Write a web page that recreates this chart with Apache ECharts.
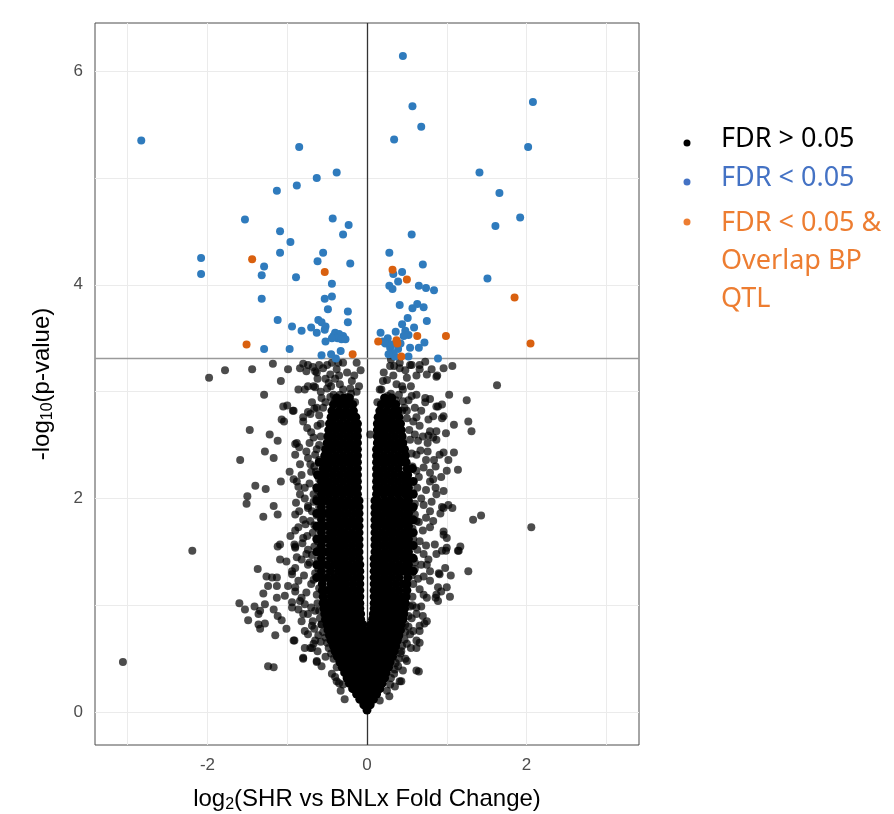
<!DOCTYPE html>
<html>
<head>
<meta charset="utf-8">
<title>Volcano plot</title>
<script src="https://cdn.jsdelivr.net/npm/echarts@6.0.0/dist/echarts.min.js"></script>
<style>
  html, body { margin: 0; padding: 0; background: #fff; }
  #volcano { width: 894px; height: 814px; }
</style>
</head>
<body>
<div id="volcano"></div>
<script>
// axis breaks and reference lines
var xTicks = [-2, 0, 2];
var yTicks = [0, 2, 4, 6];
var xGrid = [-3, -2, -1, 0, 1, 2, 3];
var yGrid = [0, 1, 2, 3, 4, 5, 6];
var fdrCut = 3.31;

// FDR < 0.05 and overlapping a BP QTL  [log2FC, -log10 p]
var qtlPoints = [
    [-1.44, 4.24], [-0.53, 4.12], [-1.51, 3.44], [-0.18, 3.35], [0.32, 4.14], [0.50, 4.05],
    [1.85, 3.88], [0.63, 3.52], [0.99, 3.52], [0.14, 3.47], [0.37, 3.48], [0.38, 3.45],
    [0.43, 3.33], [2.05, 3.45]
];

// FDR < 0.05
var sigPoints = [
    [-2.83, 5.35], [-0.85, 5.29], [-0.38, 5.05], [-0.63, 5.00], [-0.88, 4.93], [-1.13, 4.88],
    [0.45, 6.14], [0.57, 5.67], [0.68, 5.48], [0.34, 5.36], [2.08, 5.71], [2.02, 5.29],
    [1.41, 5.05], [1.66, 4.86],
    [-1.53, 4.61], [-0.43, 4.62], [-0.23, 4.56], [-1.09, 4.50], [-0.30, 4.47], [-0.96, 4.40],
    [-1.09, 4.30], [-0.55, 4.30], [-2.08, 4.25], [-0.62, 4.22], [-0.21, 4.20], [-1.29, 4.17],
    [-2.08, 4.10], [-1.32, 4.09], [-0.89, 4.07], [-0.44, 4.01], [-1.32, 3.87], [-0.53, 3.87],
    [-0.44, 3.89], [-0.49, 3.77], [-0.24, 3.75], [-1.12, 3.67], [-0.61, 3.67], [-0.57, 3.65],
    [-0.24, 3.65], [-0.94, 3.61], [-0.70, 3.60], [-0.52, 3.61], [-0.53, 3.58], [-0.82, 3.57],
    [-0.63, 3.55], [-0.40, 3.55], [-0.35, 3.54], [-0.30, 3.52], [-0.42, 3.52], [-0.37, 3.50],
    [-0.32, 3.49], [-0.27, 3.49], [-0.44, 3.50], [-0.52, 3.47], [-1.29, 3.40], [-0.97, 3.40],
    [-0.33, 3.38], [-0.57, 3.34], [-0.45, 3.35], [-0.39, 3.31],
    [1.92, 4.63], [1.61, 4.55], [0.56, 4.47], [0.28, 4.30], [0.70, 4.19], [0.33, 4.10],
    [0.44, 4.12], [0.39, 4.03], [1.51, 4.06], [0.28, 3.99], [0.32, 3.96], [0.65, 3.99],
    [0.74, 3.97], [0.84, 3.95], [0.41, 3.81], [0.57, 3.78], [0.63, 3.82], [0.71, 3.79],
    [0.51, 3.69], [0.75, 3.66], [0.44, 3.63], [0.59, 3.60], [0.17, 3.55], [0.36, 3.56],
    [0.48, 3.57], [0.52, 3.53], [0.26, 3.50], [0.46, 3.52], [0.23, 3.45], [0.72, 3.46],
    [0.29, 3.41], [0.39, 3.40], [0.54, 3.41], [0.65, 3.41], [0.33, 3.36], [0.89, 3.31],
    [0.52, 3.33], [0.20, 3.47], [0.31, 3.44], [0.42, 3.45], [0.35, 3.33], [0.27, 3.35]
];

// FDR > 0.05, scattered points outside the dense core
var nsScatter = [
    [-1.98, 3.13], [-1.78, 3.20], [-1.44, 3.21], [-1.18, 3.26], [-0.99, 3.21], [-1.08, 3.10],
    [-1.29, 2.97], [-0.80, 3.26], [-0.68, 3.23], [-0.63, 3.18], [-0.76, 3.19], [-0.86, 3.02],
    [-0.74, 3.05], [-0.65, 3.04], [-1.05, 2.86], [-1.00, 2.87], [-0.93, 2.82], [-1.07, 2.74],
    [-1.04, 2.72], [-0.80, 2.76], [-0.74, 2.81], [-1.47, 2.64], [-1.22, 2.60], [-1.12, 2.54],
    [-0.90, 2.51], [-0.85, 2.48], [-1.28, 2.44], [-1.17, 2.38], [-1.59, 2.36], [-0.97, 2.25],
    [-1.08, 2.16], [-0.88, 2.16], [-0.86, 2.11], [-0.84, 2.04], [-0.89, 1.96], [-1.40, 2.12],
    [-1.27, 2.09], [-1.50, 2.02], [-1.51, 1.95], [-1.17, 1.93], [-1.30, 1.83], [-1.12, 1.85],
    [-2.19, 1.51], [-1.12, 1.55], [-1.09, 1.57], [-0.90, 1.55], [-0.96, 1.65], [-0.90, 1.70],
    [-0.80, 1.80], [-0.85, 1.88], [-0.74, 1.93], [-0.67, 1.97],
    [-3.06, 0.47], [-1.37, 1.34], [-1.26, 1.27], [-1.19, 1.26], [-1.13, 1.26], [-1.24, 1.18],
    [-1.13, 1.18], [-1.30, 1.11], [-1.13, 1.07], [-1.60, 1.02], [-1.53, 0.96], [-1.41, 0.99],
    [-1.34, 0.95], [-1.36, 0.92], [-1.28, 1.01], [-1.49, 0.86], [-1.36, 0.82], [-1.28, 0.83],
    [-1.34, 0.78], [-1.17, 0.96], [-1.12, 0.90], [-1.07, 0.86], [-1.01, 0.78], [-1.15, 0.72],
    [-1.24, 0.43], [-1.17, 0.42], [-0.92, 0.67], [-0.80, 0.50], [-0.78, 0.60], [-0.69, 0.60],
    [-0.63, 0.47], [-0.57, 0.43], [-0.38, 0.29], [-0.30, 0.26],
    [-1.09, 1.43], [-1.01, 1.41], [-0.90, 1.35], [-0.82, 1.43], [-0.74, 1.38], [-0.94, 1.29],
    [-0.86, 1.23], [-0.99, 1.18], [-0.90, 1.13], [-1.03, 1.09], [-0.94, 1.03], [-0.82, 1.07],
    [-0.86, 0.96], [-0.78, 1.01], [-0.74, 0.92], [-0.82, 0.85], [-0.69, 0.81], [-0.74, 0.73],
    [-0.65, 0.67], [-0.65, 0.95], [-0.57, 0.82], [-0.90, 1.54], [-0.74, 1.52],
    [-0.92, 2.82], [-0.88, 2.52], [-0.90, 2.41], [-0.84, 2.32], [-0.92, 2.18], [-0.90, 1.85],
    [-0.86, 1.73], [-0.91, 1.57], [-0.88, 1.45], [-0.94, 1.32], [-0.90, 1.17], [-0.84, 1.04],
    [-0.94, 0.98], [-0.80, 0.92], [-0.91, 0.67], [-0.80, 0.51], [-0.71, 0.60], [-0.63, 0.48],
    [-0.67, 0.64], [-0.78, 0.76], [-0.76, 1.48], [-0.80, 1.63], [-0.71, 1.79], [-0.74, 1.91],
    [-0.67, 2.04], [-0.78, 2.10], [-0.82, 2.22], [-0.71, 2.32], [-0.65, 2.41], [-0.76, 2.44],
    [-0.67, 2.57], [-0.80, 2.72], [-0.71, 2.79], [-0.63, 2.85], [-0.78, 3.02], [-0.67, 3.05],
    [-0.84, 3.22], [-0.74, 3.25], [-0.65, 3.19], [-0.57, 2.94],
    [-0.55, 3.22], [-0.46, 3.16], [-0.38, 3.21], [-0.34, 3.07], [-0.50, 3.03], [-0.42, 2.97],
    [-0.21, 3.03], [-0.13, 3.00], [-0.28, 2.88], [-0.17, 2.79], [-0.50, 3.25], [-0.30, 3.27],
    [-0.13, 3.27], [-0.52, 3.12], [-0.45, 3.05], [-0.40, 2.92], [-0.35, 3.15], [-0.25, 2.95],
    [-0.19, 3.10], [-0.08, 3.20], [-0.10, 3.05],
    [-0.63, 1.10], [-0.65, 1.30], [-0.62, 1.60], [-0.66, 1.75], [-0.63, 2.00], [-0.64, 2.25],
    [-0.60, 2.50], [-0.58, 2.70], [-0.55, 2.85], [-0.60, 0.95], [-0.57, 0.82], [-0.52, 0.70],
    [-0.48, 0.60], [-0.42, 0.50], [-0.38, 0.42], [-0.70, 2.25], [-0.66, 1.55], [-0.70, 1.20],
    [-0.68, 0.85], [-0.72, 1.40], [-0.62, 2.68], [-0.69, 2.90], [-0.75, 1.65], [-0.72, 2.52],
    [-0.33, 0.20], [-0.40, 0.33], [-0.28, 0.12],
    [-0.61, 0.72], [-0.66, 0.78], [-0.59, 0.88], [-0.70, 0.98], [-0.62, 1.02], [-0.76, 1.12],
    [-0.60, 1.16], [-0.67, 1.24], [-0.79, 1.28], [-0.61, 1.34], [-0.69, 1.47], [-0.62, 1.42],
    [-0.81, 1.58], [-0.60, 1.52], [-0.68, 1.68], [-0.61, 1.72], [-0.77, 1.76], [-0.63, 1.84],
    [-0.69, 1.88], [-0.60, 1.92], [-0.78, 2.00], [-0.62, 2.08], [-0.72, 2.14], [-0.60, 2.18],
    [-0.66, 2.30], [-0.60, 2.36], [-0.74, 2.38], [-0.63, 2.46], [-0.70, 2.62], [-0.58, 2.58],
    [-0.75, 2.66], [-0.60, 2.78], [-0.66, 2.84], [-0.52, 2.90], [-0.58, 3.00], [-0.48, 3.08],
    [-0.62, 3.12], [-0.40, 3.12], [-0.30, 3.02], [-0.25, 3.18], [-0.16, 3.15], [-0.34, 2.97],
    [-0.46, 2.95], [-0.60, 3.25], [-0.44, 3.27], [-0.36, 3.27], [-0.20, 2.98], [-0.15, 2.90],
    [-0.45, 0.55], [-0.50, 0.65], [-0.52, 0.52], [-0.44, 0.36], [-0.35, 0.27], [-0.55, 0.75],
    [-0.62, 0.57], [-0.58, 0.66],
    [0.99, 1.51], [1.15, 1.51], [1.17, 1.55], [1.27, 1.32], [0.98, 1.35], [1.05, 1.28],
    [0.90, 1.30], [0.79, 1.23], [0.71, 1.27], [0.60, 1.34], [0.75, 1.38], [0.77, 1.43],
    [0.89, 1.17], [0.93, 1.13], [1.04, 1.08], [0.86, 1.07], [0.89, 1.04], [0.75, 1.07],
    [0.68, 0.99], [0.54, 0.99], [0.70, 0.90], [0.72, 0.83], [0.66, 0.81], [0.62, 0.67],
    [0.66, 0.65], [0.54, 0.73], [0.58, 0.76], [0.65, 0.38], [0.43, 0.29], [0.45, 0.39],
    [0.39, 0.43], [0.29, 0.26], [0.16, 0.11], [0.34, 0.36], [0.48, 0.82], [0.50, 0.64],
    [0.43, 0.57], [0.39, 0.70],
    [1.63, 3.06], [2.06, 1.73], [1.33, 1.80], [1.43, 1.84], [1.25, 2.92], [1.27, 2.72],
    [1.31, 2.63], [1.03, 2.97], [1.07, 3.24], [0.96, 3.22], [0.88, 3.15], [0.81, 3.21],
    [0.73, 3.28], [0.66, 3.25], [0.56, 3.25], [0.41, 3.27], [1.09, 2.69], [0.94, 2.88],
    [0.89, 2.86], [0.79, 2.93], [0.73, 2.94], [0.94, 2.75], [0.83, 2.77], [0.77, 2.74],
    [0.99, 2.61], [0.87, 2.63], [0.87, 2.55], [0.76, 2.52], [0.77, 2.59], [0.96, 2.43],
    [1.09, 2.43], [1.02, 2.36], [1.14, 2.27], [0.84, 2.36], [0.86, 2.30], [0.76, 2.44],
    [0.93, 2.20], [0.96, 2.07], [0.86, 2.10], [0.83, 2.18], [0.79, 2.24], [1.02, 1.94],
    [1.07, 1.91], [0.94, 1.92], [0.92, 1.86], [0.81, 1.97], [0.79, 1.88], [0.83, 1.79],
    [0.96, 1.69], [1.00, 1.63], [0.94, 1.51], [1.14, 1.51], [0.85, 1.57], [0.04, 2.60],
    [0.16, 3.02], [0.18, 2.71],
    [0.29, 3.24], [0.41, 3.22], [0.54, 3.25], [0.66, 3.21], [0.75, 3.16], [0.87, 3.14],
    [0.25, 3.11], [0.37, 3.07], [0.50, 3.13], [0.18, 3.02], [0.29, 2.88], [0.45, 2.91],
    [0.62, 2.97], [0.73, 2.90], [0.87, 2.86], [0.96, 2.77], [0.16, 2.72], [0.29, 2.75],
    [0.79, 2.63], [0.83, 2.57], [0.91, 2.41], [1.00, 2.26], [0.21, 3.18], [0.33, 3.15],
    [0.44, 3.05], [0.55, 3.05], [0.30, 2.98], [0.22, 2.92], [0.40, 2.97], [0.60, 2.85],
    [0.52, 2.92],
    [0.62, 2.41], [0.71, 2.29], [0.79, 2.16], [0.87, 2.04], [0.96, 1.91], [0.71, 1.94],
    [0.62, 1.79], [0.79, 1.73], [0.96, 1.66], [1.00, 1.54], [0.87, 1.48], [0.71, 1.48],
    [0.79, 1.32], [0.91, 1.29], [1.00, 1.17], [0.87, 1.10], [0.71, 1.10], [0.62, 0.98],
    [0.75, 0.85], [0.66, 0.76], [0.62, 0.60], [0.50, 0.48], [0.62, 0.39], [0.41, 0.29],
    [0.57, 1.00], [0.58, 1.20], [0.60, 1.40], [0.58, 1.62], [0.60, 1.85], [0.58, 2.05],
    [0.57, 2.30], [0.54, 2.55], [0.50, 2.75], [0.47, 2.85], [0.52, 0.90], [0.48, 0.75],
    [0.44, 0.62], [0.40, 0.50], [0.35, 0.40], [0.30, 0.32], [0.25, 0.20], [0.60, 2.60],
    [0.65, 2.20], [0.68, 2.00], [0.60, 1.95], [0.66, 1.60], [0.64, 1.25], [0.70, 1.70],
    [0.67, 2.45], [0.58, 2.72], [0.66, 2.68], [0.28, 0.15], [0.35, 0.24],
    [0.56, 0.88], [0.62, 0.92], [0.57, 1.08], [0.66, 1.15], [0.56, 1.28], [0.68, 1.38],
    [0.56, 1.45], [0.63, 1.52], [0.74, 1.56], [0.57, 1.72], [0.65, 1.78], [0.74, 1.82],
    [0.56, 1.90], [0.63, 2.10], [0.74, 2.08], [0.56, 2.16], [0.62, 2.26], [0.74, 2.36],
    [0.56, 2.42], [0.64, 2.54], [0.70, 2.58], [0.53, 2.64], [0.62, 2.76], [0.68, 2.82],
    [0.50, 2.82], [0.56, 2.96], [0.45, 3.02], [0.36, 2.92], [0.26, 2.96], [0.20, 3.10],
    [0.34, 3.24], [0.48, 3.20], [0.62, 3.15], [0.24, 2.84], [0.44, 2.82], [0.30, 3.30],
    [0.13, 2.90], [0.52, 0.80], [0.47, 0.68], [0.42, 0.55], [0.36, 0.46], [0.55, 0.60],
    [0.48, 0.50]
];

// FDR > 0.05, dense core read row by row: [-log10 p, log2FC, log2FC, ...]
var nsCoreRows = [
    [0.02, 0.00],
    [0.07, -0.04, 0.04],
    [0.12, -0.09, -0.01, 0.08],
    [0.17, -0.13, -0.05, 0.04, 0.12],
    [0.22, -0.18, -0.09, 0.00, 0.09, 0.16],
    [0.27, -0.22, -0.13, -0.04, 0.05, 0.13, 0.19],
    [0.32, -0.25, -0.17, -0.08, 0.01, 0.09, 0.17, 0.22],
    [0.37, -0.28, -0.21, -0.12, -0.03, 0.05, 0.14, 0.24],
    [0.42, -0.31, -0.25, -0.16, -0.07, 0.02, 0.10, 0.19, 0.27],
    [0.47, -0.34, -0.28, -0.20, -0.11, -0.02, 0.06, 0.15, 0.23, 0.29],
    [0.52, -0.37, -0.32, -0.24, -0.15, -0.06, 0.03, 0.11, 0.20, 0.28, 0.32],
    [0.57, -0.40, -0.35, -0.27, -0.19, -0.10, -0.01, 0.07, 0.16, 0.25, 0.34],
    [0.62, -0.42, -0.38, -0.30, -0.22, -0.13, -0.04, 0.04, 0.12, 0.21, 0.30, 0.36],
    [0.67, -0.45, -0.41, -0.33, -0.25, -0.16, -0.07, 0.01, 0.09, 0.17, 0.26, 0.35, 0.38],
    [0.72, -0.47, -0.43, -0.35, -0.27, -0.18, -0.09, -0.02, 0.06, 0.14, 0.23, 0.32, 0.40],
    [0.77, -0.49, -0.46, -0.38, -0.29, -0.20, -0.11, -0.04, 0.04, 0.11, 0.20, 0.29, 0.37, 0.42],
    [0.82, -0.50, -0.48, -0.40, -0.31, -0.22, -0.13, -0.05, 0.05, 0.10, 0.17, 0.26, 0.35, 0.43],
    [0.87, -0.52, -0.44, -0.35, -0.26, -0.17, -0.08, 0.07, 0.14, 0.23, 0.32, 0.41, 0.45],
    [0.92, -0.53, -0.48, -0.39, -0.30, -0.21, -0.12, -0.08, 0.08, 0.11, 0.20, 0.29, 0.38, 0.46],
    [0.97, -0.54, -0.45, -0.36, -0.27, -0.18, -0.09, 0.09, 0.16, 0.25, 0.34, 0.43, 0.47],
    [1.02, -0.55, -0.50, -0.41, -0.32, -0.23, -0.14, -0.09, 0.09, 0.13, 0.22, 0.31, 0.40, 0.48],
    [1.08, -0.55, -0.45, -0.36, -0.27, -0.18, -0.09, 0.09, 0.18, 0.27, 0.36, 0.45, 0.49],
    [1.14, -0.56, -0.50, -0.41, -0.32, -0.23, -0.14, -0.09, 0.09, 0.13, 0.22, 0.31, 0.40, 0.50],
    [1.20, -0.56, -0.45, -0.36, -0.27, -0.18, -0.09, 0.09, 0.18, 0.27, 0.36, 0.45, 0.50],
    [1.26, -0.63, -0.57, -0.50, -0.41, -0.32, -0.23, -0.14, -0.09, 0.09, 0.13, 0.22, 0.31, 0.40, 0.51],
    [1.32, -0.57, -0.46, -0.36, -0.27, -0.18, -0.09, 0.09, 0.18, 0.27, 0.36, 0.45, 0.51, 0.58],
    [1.38, -0.63, -0.57, -0.50, -0.41, -0.32, -0.23, -0.14, -0.09, 0.09, 0.13, 0.22, 0.31, 0.40, 0.49, 0.52],
    [1.44, -0.57, -0.46, -0.37, -0.28, -0.19, -0.10, 0.09, 0.18, 0.27, 0.36, 0.45, 0.52, 0.58],
    [1.50, -0.63, -0.57, -0.51, -0.42, -0.33, -0.24, -0.15, -0.10, 0.10, 0.14, 0.23, 0.32, 0.41, 0.50, 0.52],
    [1.56, -0.57, -0.46, -0.37, -0.28, -0.19, -0.10, 0.10, 0.19, 0.28, 0.37, 0.46, 0.52, 0.58],
    [1.62, -0.63, -0.57, -0.51, -0.42, -0.33, -0.24, -0.15, -0.10, 0.10, 0.14, 0.23, 0.32, 0.41, 0.50, 0.52],
    [1.68, -0.57, -0.46, -0.37, -0.28, -0.19, -0.10, 0.10, 0.19, 0.28, 0.37, 0.46, 0.52, 0.58],
    [1.74, -0.63, -0.57, -0.51, -0.42, -0.33, -0.24, -0.15, -0.10, 0.10, 0.14, 0.23, 0.32, 0.41, 0.50, 0.52],
    [1.80, -0.57, -0.46, -0.37, -0.28, -0.19, -0.10, 0.10, 0.19, 0.28, 0.37, 0.46, 0.52, 0.58],
    [1.86, -0.63, -0.57, -0.51, -0.42, -0.33, -0.24, -0.15, -0.10, 0.10, 0.14, 0.23, 0.32, 0.41, 0.50, 0.52],
    [1.92, -0.57, -0.46, -0.37, -0.28, -0.19, -0.10, 0.10, 0.19, 0.28, 0.37, 0.46, 0.52, 0.58],
    [1.98, -0.63, -0.57, -0.51, -0.42, -0.33, -0.24, -0.15, -0.10, 0.10, 0.14, 0.23, 0.32, 0.41, 0.50, 0.52],
    [2.04, -0.57, -0.48, -0.39, -0.30, -0.21, -0.12, 0.12, 0.21, 0.30, 0.39, 0.48, 0.52, 0.58],
    [2.10, -0.63, -0.57, -0.52, -0.43, -0.34, -0.25, -0.16, -0.12, 0.12, 0.16, 0.25, 0.34, 0.43, 0.52],
    [2.16, -0.57, -0.48, -0.39, -0.30, -0.21, -0.12, 0.12, 0.21, 0.30, 0.39, 0.48, 0.52, 0.58],
    [2.22, -0.62, -0.56, -0.52, -0.43, -0.34, -0.25, -0.16, -0.12, 0.12, 0.16, 0.25, 0.34, 0.43, 0.51],
    [2.28, -0.55, -0.48, -0.39, -0.30, -0.21, -0.12, 0.12, 0.21, 0.30, 0.39, 0.50, 0.57],
    [2.34, -0.60, -0.54, -0.51, -0.43, -0.34, -0.25, -0.16, -0.12, 0.12, 0.16, 0.25, 0.34, 0.43, 0.49],
    [2.40, -0.53, -0.48, -0.39, -0.30, -0.21, -0.12, 0.12, 0.21, 0.30, 0.39, 0.48],
    [2.46, -0.52, -0.43, -0.34, -0.25, -0.16, -0.12, 0.12, 0.16, 0.25, 0.34, 0.43, 0.47],
    [2.52, -0.50, -0.48, -0.39, -0.30, -0.21, -0.12, 0.13, 0.21, 0.30, 0.39, 0.45],
    [2.58, -0.49, -0.43, -0.34, -0.25, -0.16, -0.12, 0.13, 0.17, 0.26, 0.35, 0.44],
    [2.64, -0.48, -0.39, -0.30, -0.21, -0.12, 0.13, 0.22, 0.31, 0.40, 0.43],
    [2.70, -0.47, -0.43, -0.34, -0.25, -0.16, -0.12, 0.13, 0.17, 0.26, 0.35, 0.42],
    [2.76, -0.45, -0.39, -0.30, -0.21, -0.14, 0.14, 0.22, 0.31, 0.40],
    [2.82, -0.44, -0.35, -0.26, -0.17, 0.16, 0.25, 0.34, 0.39],
    [2.88, -0.42, -0.33, -0.24, -0.18, 0.18, 0.27, 0.36],
    [2.94, -0.38, -0.29, -0.22, 0.22, 0.31]
];

(function () {
    var chartDom = document.getElementById('volcano');
    var myChart = echarts.init(chartDom, null, { renderer: 'canvas' });
    var option;

    var coreData = [];
    nsCoreRows.forEach(function (row) {
        for (var i = 1; i < row.length; i++) {
            coreData.push([row[i], row[0]]);
        }
    });

    var gridLines = [];
    yGrid.forEach(function (v) { gridLines.push({ yAxis: v }); });
    xGrid.forEach(function (v) { gridLines.push({ xAxis: v }); });

    var axisFont = 'Liberation Sans, Arial, sans-serif';
    var legendFont = 'Noto Sans, Open Sans, sans-serif';

    option = {
        animation: false,
        backgroundColor: '#ffffff',
        grid: {
            left: 95,
            right: 255,
            top: 23,
            bottom: 69,
            outerBoundsMode: 'none',
            containLabel: false,
            show: true,
            borderColor: '#4d4d4d',
            borderWidth: 1
        },
        xAxis: {
            type: 'value',
            min: -3.41,
            max: 3.41,
            name: '{a|log}{s|2}{a|(SHR vs BNLx Fold Change)}',
            nameLocation: 'middle',
            nameGap: 40,
            nameTextStyle: {
                fontSize: 24,
                fontFamily: axisFont,
                color: '#000',
                rich: {
                    a: { fontSize: 24, fontFamily: axisFont, color: '#000', lineHeight: 28 },
                    s: { fontSize: 16, fontFamily: axisFont, color: '#000', lineHeight: 16, verticalAlign: 'bottom' }
                }
            },
            axisLine: { show: false },
            axisTick: {
                show: true,
                length: 5,
                customValues: xTicks,
                lineStyle: { color: '#333333', width: 1 }
            },
            axisLabel: {
                customValues: xTicks,
                margin: 12,
                fontSize: 17,
                fontFamily: axisFont,
                color: '#4d4d4d'
            },
            splitLine: { show: false }
        },
        yAxis: {
            type: 'value',
            min: -0.307,
            max: 6.45,
            name: '{a|-log}{s|10}{a|(p-value)}',
            nameLocation: 'middle',
            nameGap: 39,
            nameRotate: 90,
            nameTextStyle: {
                fontSize: 24,
                fontFamily: axisFont,
                color: '#000',
                rich: {
                    a: { fontSize: 24, fontFamily: axisFont, color: '#000', lineHeight: 28 },
                    s: { fontSize: 16, fontFamily: axisFont, color: '#000', lineHeight: 16, verticalAlign: 'bottom' }
                }
            },
            axisLine: { show: false },
            axisTick: {
                show: true,
                length: 5,
                customValues: yTicks,
                lineStyle: { color: '#333333', width: 1 }
            },
            axisLabel: {
                customValues: yTicks,
                margin: 12,
                fontSize: 17,
                fontFamily: axisFont,
                color: '#4d4d4d'
            },
            splitLine: { show: false }
        },
        series: [
            {
                // panel grid and reference lines
                name: 'lines',
                type: 'scatter',
                data: [],
                silent: true,
                z: 1,
                markLine: {
                    silent: true,
                    symbol: 'none',
                    animation: false,
                    label: { show: false },
                    emphasis: { disabled: true },
                    lineStyle: { color: '#ebebeb', width: 1, type: 'solid' },
                    data: gridLines.concat([
                        { xAxis: 0, lineStyle: { color: '#333333', width: 1.3, type: 'solid' } },
                        { yAxis: fdrCut, lineStyle: { color: '#9a9a9a', width: 1.3, type: 'solid' } }
                    ])
                }
            },
            {
                name: 'FDR > 0.05 core',
                type: 'scatter',
                data: coreData,
                symbolSize: 9,
                z: 10,
                progressive: 0,
                itemStyle: { color: '#000000', opacity: 1 }
            },
            {
                name: 'FDR > 0.05',
                type: 'scatter',
                data: nsScatter,
                symbolSize: 8,
                z: 11,
                progressive: 0,
                itemStyle: { color: '#000000', opacity: 0.7 }
            },
            {
                name: 'FDR < 0.05',
                type: 'scatter',
                data: sigPoints,
                symbolSize: 8,
                z: 12,
                itemStyle: { color: '#2f7bbd', opacity: 1 }
            },
            {
                name: 'FDR < 0.05 & Overlap BP QTL',
                type: 'scatter',
                data: qtlPoints,
                symbolSize: 8,
                z: 13,
                itemStyle: { color: '#d9600f', opacity: 1 }
            }
        ],
        graphic: [
            { type: 'circle', shape: { cx: 687, cy: 143, r: 3.5 }, style: { fill: '#000000' } },
            { type: 'circle', shape: { cx: 687, cy: 182, r: 3.5 }, style: { fill: '#4472c4' } },
            { type: 'circle', shape: { cx: 687, cy: 222, r: 3.5 }, style: { fill: '#ed7d31' } },
            {
                type: 'text', left: 721, top: 126,
                style: { text: 'FDR > 0.05', fill: '#000000', fontSize: 27, fontFamily: legendFont }
            },
            {
                type: 'text', left: 721, top: 165,
                style: { text: 'FDR < 0.05', fill: '#4472c4', fontSize: 27, fontFamily: legendFont }
            },
            {
                type: 'text', left: 721, top: 204,
                style: {
                    text: 'FDR < 0.05 &\nOverlap BP\nQTL',
                    fill: '#ed7d31', fontSize: 27, lineHeight: 38, fontFamily: legendFont
                }
            }
        ]
    };

    option && myChart.setOption(option);
})();
</script>
</body>
</html>
